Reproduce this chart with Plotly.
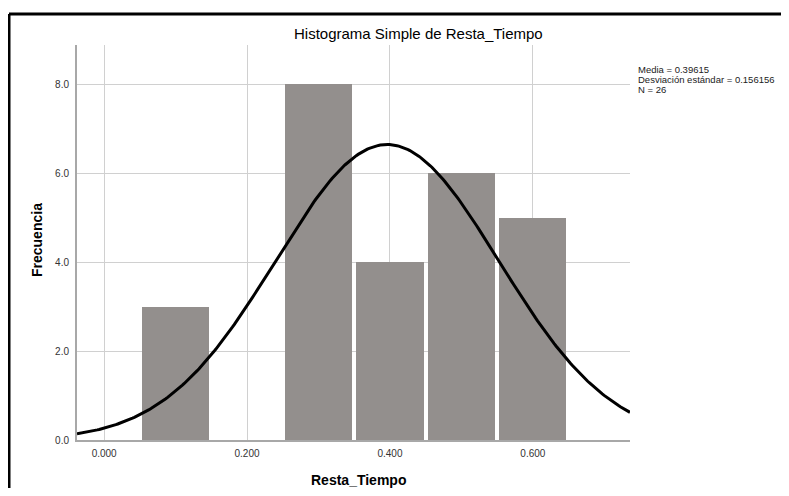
import numpy as np
import plotly.graph_objects as go

# Data
bin_centers = [0.1, 0.3, 0.4, 0.5, 0.6]
frequencies = [3, 8, 4, 6, 5]
bin_width = 0.1
mean_val = 0.39615
std_val = 0.156156
n_val = 26
x_tickvals = [0.0, 0.2, 0.4, 0.6]
x_ticklabels = ["0.000", "0.200", "0.400", "0.600"]
y_tickvals = [0, 2, 4, 6, 8]
y_ticklabels = ["0.0", "2.0", "4.0", "6.0", "8.0"]

x_range = [-0.038, 0.736]
y_range = [0, 8.88]

# Normal curve fitted to the shown statistics (scaled to counts)
xc = np.linspace(x_range[0], x_range[1], 300)
yc = n_val * bin_width * np.exp(-0.5 * ((xc - mean_val) / std_val) ** 2) / (std_val * np.sqrt(2 * np.pi))

fig = go.Figure()
fig.add_trace(go.Bar(x=bin_centers, y=frequencies, width=0.094,
                     marker=dict(color="#938f8d", line=dict(width=0)),
                     hoverinfo="x+y"))
fig.add_trace(go.Scatter(x=xc, y=yc, mode="lines",
                         line=dict(color="black", width=3), hoverinfo="skip"))

font = "Liberation Sans, Arial, sans-serif"
# page body has an 8px margin: plot area should land at page x 77..630, y 45..440
fig.update_layout(
    width=781, height=480,
    margin=dict(l=69, r=159, t=37, b=48),
    paper_bgcolor="white", plot_bgcolor="white",
    showlegend=False,
    font=dict(family=font, size=10, color="#222"),
    xaxis=dict(range=x_range, tickvals=x_tickvals, ticktext=x_ticklabels,
               showgrid=True, gridcolor="#d0d0d0", gridwidth=1,
               showline=True, linecolor="#a8a8a8", linewidth=2,
               zeroline=False, ticks="", tickfont=dict(size=10, color="#333"),
               ticklabelstandoff=3),
    yaxis=dict(range=y_range, tickvals=y_tickvals, ticktext=y_ticklabels,
               showgrid=True, gridcolor="#d0d0d0", gridwidth=1,
               showline=True, linecolor="#a8a8a8", linewidth=2,
               zeroline=False, ticks="", tickfont=dict(size=10, color="#333"),
               ticklabelstandoff=4),
    bargap=0,
)

def px(x):
    return (x - 77) / 553

def py(y):
    return (440 - y) / 395

# Frame (top and left border)
fig.add_shape(type="line", xref="paper", yref="paper", x0=px(9), x1=px(800), y0=py(14), y1=py(14),
              line=dict(color="black", width=3))
fig.add_shape(type="line", xref="paper", yref="paper", x0=px(9), x1=px(9), y0=py(500), y1=py(14),
              line=dict(color="black", width=3))

# Title
fig.add_annotation(text="Histograma Simple de Resta_Tiempo", xref="paper", yref="paper",
                   x=px(418), y=py(33), showarrow=False,
                   font=dict(family=font, size=15, color="black"), xanchor="center", yanchor="middle")
# Axis titles
fig.add_annotation(text="<b>Frecuencia</b>", xref="paper", yref="paper",
                   x=px(37), y=py(240), showarrow=False, textangle=-90,
                   font=dict(family=font, size=14, color="black"), xanchor="center", yanchor="middle")
fig.add_annotation(text="<b>Resta_Tiempo</b>", xref="paper", yref="paper",
                   x=px(358), y=py(480), showarrow=False,
                   font=dict(family=font, size=14, color="black"), xanchor="center", yanchor="middle")
# Stats text (one line per annotation for tight spacing)
stats_lines = [f"Media = {mean_val}", f"Desviación estándar = {std_val}", f"N = {n_val}"]
for i, line in enumerate(stats_lines):
    fig.add_annotation(text=line, xref="paper", yref="paper",
                       x=px(636), y=py(69 + 10 * i), showarrow=False, align="left",
                       font=dict(family=font, size=9.5, color="#222"), xanchor="left", yanchor="middle")

fig.write_html("out.html", config={"displayModeBar": False})
